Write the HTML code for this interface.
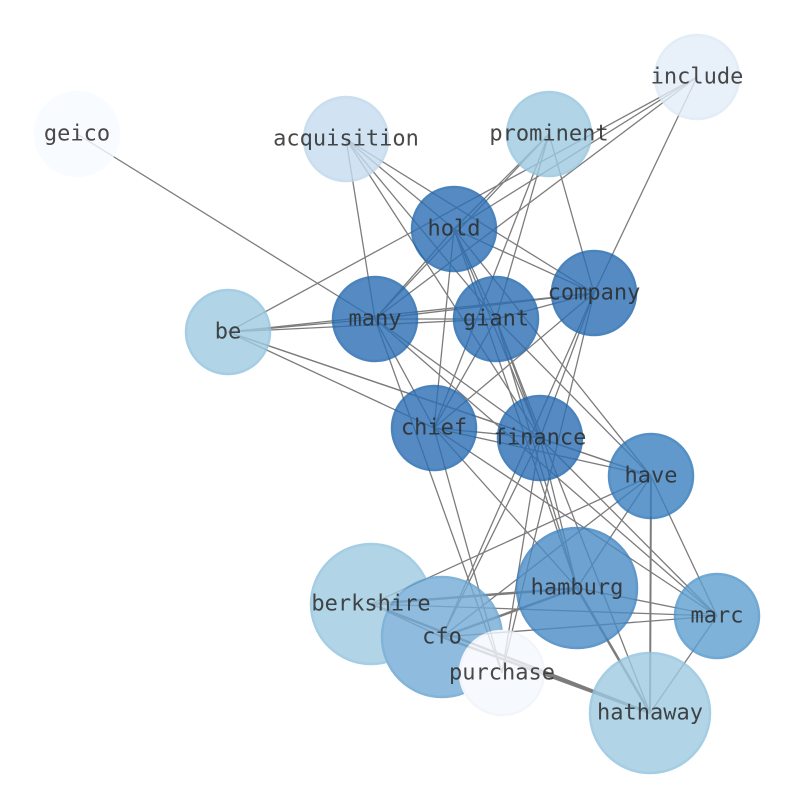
<!DOCTYPE html>
<html><head><meta charset="utf-8"><style>html,body{margin:0;padding:0;background:#fff}svg{display:block}</style></head>
<body>
<svg width="794" height="790" viewBox="0 0 794 790" xmlns="http://www.w3.org/2000/svg">
<g stroke="#666" stroke-width="1.3" opacity="0.85">
<line x1="77" y1="134" x2="375" y2="319"/>
<line x1="346" y1="139" x2="375" y2="319"/>
<line x1="346" y1="139" x2="454" y2="229"/>
<line x1="346" y1="139" x2="594" y2="293"/>
<line x1="346" y1="139" x2="496" y2="319"/>
<line x1="346" y1="139" x2="540" y2="438"/>
<line x1="549" y1="134" x2="454" y2="229"/>
<line x1="549" y1="134" x2="375" y2="319"/>
<line x1="549" y1="134" x2="496" y2="319"/>
<line x1="549" y1="134" x2="434" y2="428"/>
<line x1="549" y1="134" x2="594" y2="293"/>
<line x1="697" y1="77" x2="454" y2="229"/>
<line x1="697" y1="77" x2="375" y2="319"/>
<line x1="697" y1="77" x2="594" y2="293"/>
<line x1="697" y1="77" x2="228" y2="332"/>
<line x1="228" y1="332" x2="375" y2="319"/>
<line x1="228" y1="332" x2="496" y2="319"/>
<line x1="228" y1="332" x2="594" y2="293"/>
<line x1="228" y1="332" x2="434" y2="428"/>
<line x1="228" y1="332" x2="540" y2="438"/>
<line x1="228" y1="332" x2="651" y2="476"/>
<line x1="454" y1="229" x2="375" y2="319"/>
<line x1="454" y1="229" x2="496" y2="319"/>
<line x1="454" y1="229" x2="434" y2="428"/>
<line x1="454" y1="229" x2="540" y2="438"/>
<line x1="454" y1="229" x2="577" y2="588"/>
<line x1="454" y1="229" x2="651" y2="476"/>
<line x1="454" y1="229" x2="594" y2="293"/>
<line x1="375" y1="319" x2="496" y2="319"/>
<line x1="375" y1="319" x2="594" y2="293"/>
<line x1="375" y1="319" x2="434" y2="428"/>
<line x1="375" y1="319" x2="540" y2="438"/>
<line x1="375" y1="319" x2="717" y2="616"/>
<line x1="375" y1="319" x2="502" y2="673"/>
<line x1="496" y1="319" x2="594" y2="293"/>
<line x1="496" y1="319" x2="434" y2="428"/>
<line x1="496" y1="319" x2="540" y2="438"/>
<line x1="496" y1="319" x2="577" y2="588"/>
<line x1="496" y1="319" x2="651" y2="476"/>
<line x1="496" y1="319" x2="650" y2="713"/>
<line x1="594" y1="293" x2="434" y2="428"/>
<line x1="594" y1="293" x2="540" y2="438"/>
<line x1="594" y1="293" x2="442" y2="637"/>
<line x1="594" y1="293" x2="502" y2="673"/>
<line x1="434" y1="428" x2="540" y2="438"/>
<line x1="434" y1="428" x2="651" y2="476"/>
<line x1="434" y1="428" x2="577" y2="588"/>
<line x1="434" y1="428" x2="717" y2="616"/>
<line x1="434" y1="428" x2="502" y2="673"/>
<line x1="540" y1="438" x2="651" y2="476"/>
<line x1="540" y1="438" x2="442" y2="637"/>
<line x1="540" y1="438" x2="502" y2="673"/>
<line x1="540" y1="438" x2="577" y2="588"/>
<line x1="540" y1="438" x2="717" y2="616"/>
<line x1="651" y1="476" x2="371" y2="604"/>
<line x1="651" y1="476" x2="442" y2="637"/>
<line x1="651" y1="476" x2="577" y2="588"/>
<line x1="651" y1="476" x2="717" y2="616"/>
<line x1="651" y1="476" x2="650" y2="713" stroke-width="2"/>
<line x1="577" y1="588" x2="371" y2="604" stroke-width="2.5"/>
<line x1="577" y1="588" x2="442" y2="637" stroke-width="2.5"/>
<line x1="577" y1="588" x2="717" y2="616"/>
<line x1="577" y1="588" x2="650" y2="713" stroke-width="2.5"/>
<line x1="371" y1="604" x2="717" y2="616"/>
<line x1="371" y1="604" x2="442" y2="637"/>
<line x1="371" y1="604" x2="650" y2="713" stroke-width="2.5"/>
<line x1="442" y1="637" x2="717" y2="616"/>
<line x1="442" y1="637" x2="650" y2="713" stroke-width="2.5"/>
<line x1="717" y1="616" x2="650" y2="713"/>
</g>
<g stroke-width="2.5" opacity="0.8">
<circle cx="77" cy="134" r="42" fill="#f7fbff" stroke="#f7fbff"/>
<circle cx="346" cy="139" r="42" fill="#c6dbef" stroke="#bcd6ec"/>
<circle cx="549" cy="134" r="42" fill="#9ecae1" stroke="#94c4de"/>
<circle cx="697" cy="77" r="42" fill="#e3edf8" stroke="#dde9f6"/>
<circle cx="228" cy="332" r="42" fill="#9ecae1" stroke="#8fc2de"/>
<circle cx="454" cy="229" r="42" fill="#2b6fb3" stroke="#1f66ad"/>
<circle cx="594" cy="293" r="42" fill="#2b6fb3" stroke="#1f66ad"/>
<circle cx="375" cy="319" r="42" fill="#2b6fb3" stroke="#1f66ad"/>
<circle cx="496" cy="319" r="42" fill="#2b6fb3" stroke="#1f66ad"/>
<circle cx="434" cy="428" r="42" fill="#2b6fb3" stroke="#1f66ad"/>
<circle cx="540" cy="438" r="42" fill="#2b6fb3" stroke="#1f66ad"/>
<circle cx="651" cy="476" r="42" fill="#3a80c0" stroke="#2a74b8"/>
<circle cx="577" cy="588" r="60" fill="#4a8cc6" stroke="#3a80c0"/>
<circle cx="371" cy="604" r="60" fill="#9ecae1" stroke="#8fc2de"/>
<circle cx="442" cy="637" r="60" fill="#74acd6" stroke="#64a2d0"/>
<circle cx="502" cy="673" r="42" fill="#f4f8fd" stroke="#f0f5fb"/>
<circle cx="717" cy="616" r="42" fill="#5e9fd0" stroke="#4e94ca"/>
<circle cx="650" cy="713" r="60" fill="#9ecae1" stroke="#8fc2de"/>
</g>
<g font-family="'DejaVu Sans Mono','Liberation Mono',monospace" font-size="22" fill="#2a2a2a" text-anchor="middle" dominant-baseline="central" opacity="0.85">
<text x="77" y="134">geico</text>
<text x="346" y="139">acquisition</text>
<text x="549" y="134">prominent</text>
<text x="697" y="77">include</text>
<text x="228" y="332">be</text>
<text x="454" y="229">hold</text>
<text x="594" y="293">company</text>
<text x="375" y="319">many</text>
<text x="496" y="319">giant</text>
<text x="434" y="428">chief</text>
<text x="540" y="438">finance</text>
<text x="651" y="476">have</text>
<text x="577" y="588">hamburg</text>
<text x="371" y="604">berkshire</text>
<text x="442" y="637">cfo</text>
<text x="502" y="673">purchase</text>
<text x="717" y="616">marc</text>
<text x="650" y="713">hathaway</text>
</g>
</svg>
</body></html>
